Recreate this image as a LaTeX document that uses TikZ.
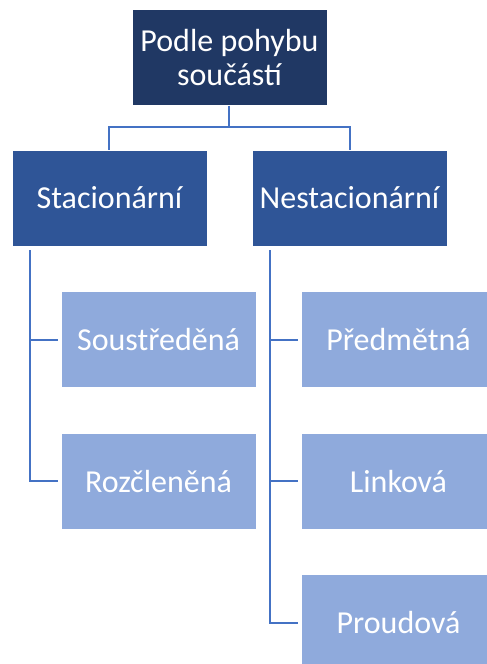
\documentclass[tikz,border=0pt]{standalone}
\usepackage{fontspec}
\setmainfont{Carlito}
\usepackage{xcolor}
\usetikzlibrary{positioning}
\definecolor{orgnavy}{HTML}{203864}
\definecolor{orgblue}{HTML}{2F5597}
\definecolor{orglight}{HTML}{8FAADC}
\definecolor{orgline}{HTML}{4472C4}

\begin{document}
\begin{tikzpicture}[node distance=33.75pt,
    box/.style={rectangle, draw=white, line width=0.4pt, text=white,
                minimum width=146.25pt, minimum height=72pt, inner sep=0pt,
                align=center, font=\fontsize{24}{25.5}\selectfont},
    topbox/.style={box, fill=orgnavy},
    midbox/.style={box, fill=orgblue},
    leafbox/.style={box, fill=orglight},
    conn/.style={draw=orgline, line width=1.5pt}]

\useasboundingbox (-172.125pt,43.125pt) rectangle (192.375pt,-454.875pt);

\node[topbox] (top) at (0,0) {Podle pohybu\\součástí};

\node[midbox, below=33pt of top, xshift=-90pt] (stac) {Stacionární};
\node[midbox, below=33pt of top, xshift=90pt] (nestac) {Nestacionární};

\node[leafbox, below=of stac, xshift=36.75pt] (soust) {Soustředěná};
\node[leafbox, below=of soust] (rozcl) {Rozčleněná};

\node[leafbox, below=of nestac, xshift=36.75pt] (predm) {Předmětná};
\node[leafbox, below=of predm] (link) {Linková};
\node[leafbox, below=of link] (proud) {Proudová};

\draw[conn] (top.south) -- ++(0,-15.75pt) -| (stac.north);
\draw[conn] (top.south) -- ++(0,-15.75pt) -| (nestac.north);

\draw[conn] ([xshift=13.5pt,yshift=-3pt]stac.south west) |- ([xshift=-2pt]soust.west);
\draw[conn] ([xshift=13.5pt,yshift=-3pt]stac.south west) |- ([xshift=-2pt]rozcl.west);

\draw[conn] ([xshift=13.5pt,yshift=-3pt]nestac.south west) |- ([xshift=-2pt]predm.west);
\draw[conn] ([xshift=13.5pt,yshift=-3pt]nestac.south west) |- ([xshift=-2pt]link.west);
\draw[conn] ([xshift=13.5pt,yshift=-3pt]nestac.south west) |- ([xshift=-2pt]proud.west);

\end{tikzpicture}
\end{document}
